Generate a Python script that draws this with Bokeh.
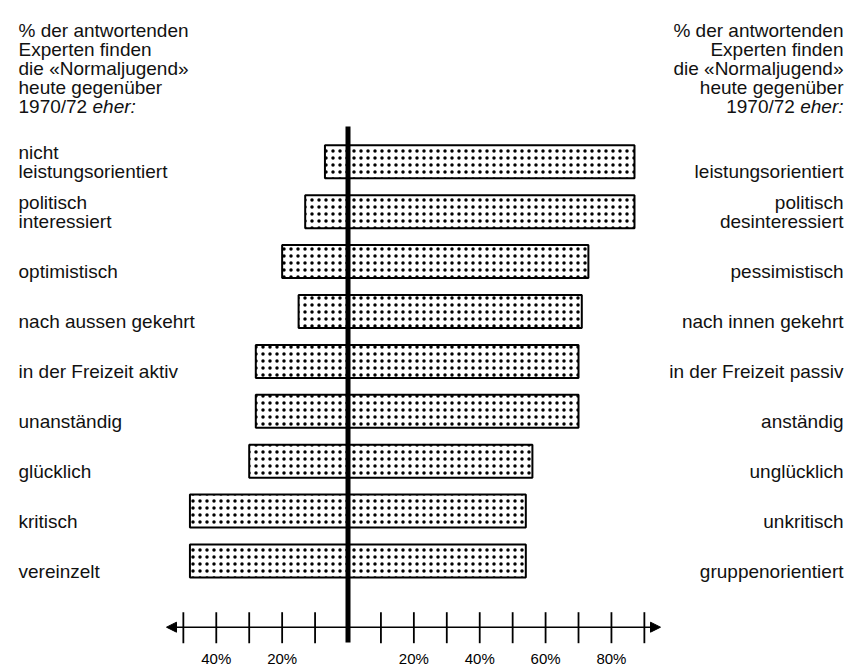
from bokeh.plotting import figure
from bokeh.models import Range1d, Arrow, NormalHead
from bokeh.embed import file_html
from bokeh.resources import INLINE
from bokeh.core.properties import value

# ---------------- data ----------------
left_labels = ["nicht\nleistungsorientiert", "politisch\ninteressiert", "optimistisch",
               "nach aussen gekehrt", "in der Freizeit aktiv", "unanständig",
               "glücklich", "kritisch", "vereinzelt"]
right_labels = ["leistungsorientiert", "politisch\ndesinteressiert", "pessimistisch",
                "nach innen gekehrt", "in der Freizeit passiv", "anständig",
                "unglücklich", "unkritisch", "gruppenorientiert"]
left_pct = [7, 13, 20, 15, 28, 28, 30, 48, 48]
right_pct = [87, 87, 73, 71, 70, 70, 56, 54, 54]

tick_values = [-50, -40, -30, -20, -10, 10, 20, 30, 40, 50, 60, 70, 80, 90]
tick_label_values = [-40, -20, 20, 40, 60, 80]
tick_label_texts = ["40%", "20%", "20%", "40%", "60%", "80%"]

header_lines = ["% der antwortenden", "Experten finden", "die «Normaljugend»",
                "heute gegenüber", "1970/72"]
header_italic = "eher:"

# ---------------- layout helpers (screen px -> data) ----------------
ZERO_X, PX_PER_PCT = 347.5, 3.293
ROW0_Y, PX_PER_ROW = 161.3, 49.9

def px2x(X):
    return (X - ZERO_X) / PX_PER_PCT

def py2y(Y):
    return (Y - ROW0_Y) / PX_PER_ROW

W, H = 862, 666
p = figure(width=W, height=H, output_backend="svg", toolbar_location=None,
           x_range=Range1d(px2x(0), px2x(W)),
           y_range=Range1d(py2y(H), py2y(0)),
           x_axis_location=None, y_axis_location=None,
           min_border=0, min_border_left=0, min_border_right=0,
           min_border_top=0, min_border_bottom=0,
           outline_line_color=None, background_fill_color="white",
           border_fill_color="white")
p.grid.visible = False

FONT = value("Liberation Sans")
FS = "19px"

rows = list(range(len(left_pct)))

# bars
p.hbar(y=rows, left=[-v for v in left_pct], right=right_pct,
       height=33 / PX_PER_ROW, fill_color="white", line_color="black",
       line_width=2, hatch_pattern="dot", hatch_color="black",
       hatch_scale=7, hatch_weight=3)

# central thick line
p.segment(x0=[0], x1=[0], y0=[py2y(126)], y1=[py2y(642)],
          line_color="black", line_width=5)

# axis with arrows
axis_y = py2y(626.7)
p.add_layout(Arrow(start=NormalHead(size=10, fill_color="black", line_color="black", line_width=1),
                   end=NormalHead(size=10, fill_color="black", line_color="black", line_width=1),
                   x_start=px2x(166), x_end=px2x(660), y_start=axis_y, y_end=axis_y,
                   line_color="black", line_width=1.6))
p.segment(x0=tick_values, x1=tick_values,
          y0=[py2y(611.7)] * len(tick_values), y1=[py2y(642.7)] * len(tick_values),
          line_color="black", line_width=1.8)
p.text(x=tick_label_values, y=[py2y(649)] * len(tick_label_values), text=tick_label_texts,
       text_font=FONT, text_font_size="15px", text_align="center",
       text_baseline="top", text_color="black")

# row labels
def row_text_positions(labels):
    ys, ts = [], []
    for i, lab in enumerate(labels):
        parts = lab.split("\n")
        if len(parts) == 1:
            ys.append(py2y(ROW0_Y + PX_PER_ROW * i + 10)); ts.append(parts[0])
        else:
            ys.append(py2y(ROW0_Y + PX_PER_ROW * i - 9)); ts.append(parts[0])
            ys.append(py2y(ROW0_Y + PX_PER_ROW * i + 10)); ts.append(parts[1])
    return ys, ts

TXT = "#111111"
ly, lt = row_text_positions(left_labels)
p.text(x=[px2x(18)] * len(lt), y=ly, text=lt, text_font=FONT, text_font_size=FS,
       text_align="left", text_baseline="alphabetic", text_color=TXT)
ry, rt = row_text_positions(right_labels)
p.text(x=[px2x(843)] * len(rt), y=ry, text=rt, text_font=FONT, text_font_size=FS,
       text_align="right", text_baseline="alphabetic", text_color=TXT)

# headers
hy = [py2y(30 + 19 * k) for k in range(len(header_lines))]
p.text(x=[px2x(18)] * len(header_lines), y=hy, text=header_lines, text_font=FONT,
       text_font_size=FS, text_align="left", text_baseline="alphabetic", text_color=TXT)
p.text(x=[px2x(92)], y=[hy[-1]], text=[header_italic], text_font=FONT,
       text_font_size=FS, text_font_style="italic", text_align="left",
       text_baseline="alphabetic", text_color=TXT)
p.text(x=[px2x(843)] * (len(header_lines) - 1), y=hy[:-1], text=header_lines[:-1],
       text_font=FONT, text_font_size=FS, text_align="right",
       text_baseline="alphabetic", text_color=TXT)
p.text(x=[px2x(794.4)], y=[hy[-1]], text=[header_lines[-1]], text_font=FONT,
       text_font_size=FS, text_align="right", text_baseline="alphabetic", text_color=TXT)
p.text(x=[px2x(843)], y=[hy[-1]], text=[header_italic], text_font=FONT,
       text_font_size=FS, text_font_style="italic", text_align="right",
       text_baseline="alphabetic", text_color=TXT)

open("out.html", "w").write(file_html(p, INLINE))
